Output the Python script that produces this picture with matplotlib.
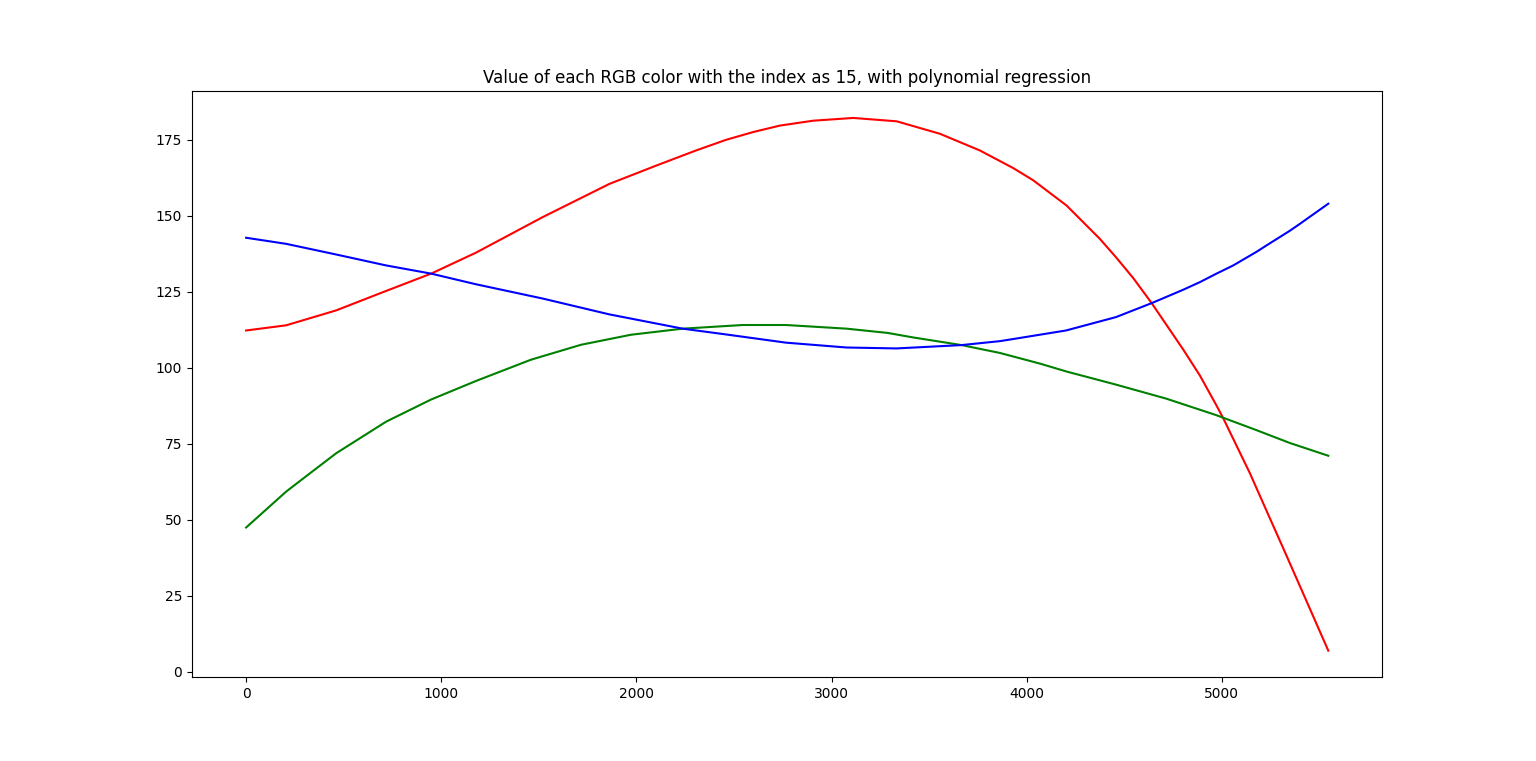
import matplotlib
matplotlib.use("Agg")
import matplotlib.pyplot as plt

# values (sample index -> channel value)
red_x = [0, 205, 461, 717, 948, 1178, 1520, 1861, 2100, 2305, 2459, 2600, 2736, 2906, 3111,
         3333, 3555, 3760, 3931, 4033, 4204, 4375, 4457, 4546, 4640, 4802, 4887, 4969, 5007,
         5143, 5230, 5314, 5430, 5545]
red_y = [112.2, 113.9, 118.8, 125.2, 130.9, 137.8, 149.5, 160.4, 166.4, 171.4, 174.9, 177.5, 179.6, 181.2, 182.1,
         181.0, 176.9, 171.4, 165.6, 161.6, 153.3, 142.3, 136.3, 129.4, 121.2, 105.9, 97.4, 87.9, 83.3,
         65.3, 52.7, 40.6, 23.7, 6.9]

green_x = [0, 205, 290, 461, 717, 948, 1178, 1460, 1716, 1972, 2237, 2544, 2766, 3077,
           3287, 3419, 3666, 3863, 4068, 4204, 4457, 4714, 4969, 5178, 5348, 5545]
green_y = [47.4, 59.2, 63.4, 71.8, 82.2, 89.5, 95.6, 102.6, 107.5, 110.8, 112.8, 114.0, 114.0, 112.8,
           111.4, 109.9, 107.4, 104.8, 101.3, 98.7, 94.4, 89.8, 84.4, 79.4, 75.2, 71.0]

blue_x = [0, 205, 461, 717, 948, 1178, 1520, 1861, 2237, 2459, 2766, 3077, 3333, 3666,
          3863, 3970, 4201, 4457, 4640, 4798, 4887, 4969, 5058, 5178, 5229, 5348, 5400, 5545]
blue_y = [142.7, 140.7, 137.2, 133.6, 130.9, 127.4, 122.7, 117.5, 112.8, 110.9, 108.2, 106.6, 106.3, 107.4,
          108.7, 109.8, 112.2, 116.6, 121.2, 125.5, 128.1, 130.8, 133.6, 138.1, 140.2, 145.0, 147.3, 153.9]

fig = plt.figure(figsize=(15.36, 7.61), dpi=100)
plt.plot(red_x, red_y, color="red")
plt.plot(green_x, green_y, color="green")
plt.plot(blue_x, blue_y, color="blue")
plt.title("Value of each RGB color with the index as 15, with polynomial regression")

plt.savefig("out.png", dpi=100)
